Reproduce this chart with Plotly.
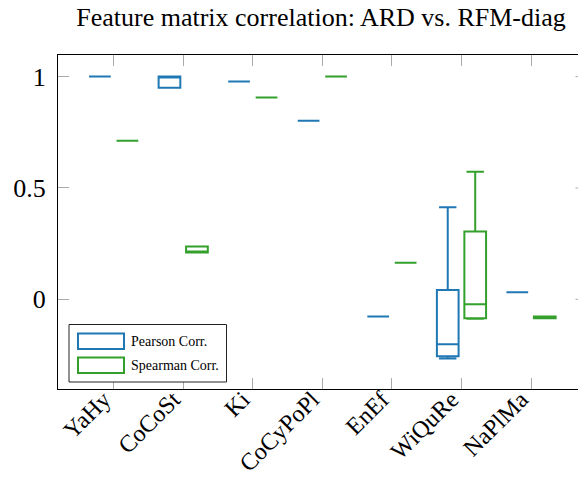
import plotly.graph_objects as go

# Feature groups on the x axis
categories = ["YaHy", "CoCoSt", "Ki", "CoCyPoPl", "EnEf", "WiQuRe", "NaPlMa"]

# Pearson correlation summary statistics per feature group
pearson_q1 = [1.0, 0.950, 0.978, 0.802, -0.077, -0.256, 0.032]
pearson_median = [1.0, 1.0, 0.978, 0.802, -0.077, -0.202, 0.032]
pearson_q3 = [1.0, 1.0, 0.978, 0.802, -0.077, 0.042, 0.032]
pearson_low = [1.0, 0.950, 0.978, 0.802, -0.077, -0.266, 0.032]
pearson_high = [1.0, 1.0, 0.978, 0.802, -0.077, 0.413, 0.032]

# Spearman correlation summary statistics per feature group
spearman_q1 = [0.712, 0.210, 0.906, 1.0, 0.164, -0.085, -0.085]
spearman_median = [0.712, 0.210, 0.906, 1.0, 0.164, -0.022, -0.080]
spearman_q3 = [0.712, 0.237, 0.906, 1.0, 0.164, 0.304, -0.077]
spearman_low = [0.712, 0.210, 0.906, 1.0, 0.164, -0.088, -0.085]
spearman_high = [0.712, 0.237, 0.906, 1.0, 0.164, 0.573, -0.077]

y_tick_values = [0, 0.5, 1]
y_tick_labels = ["0", "0.5", "1"]

BLUE = "#1f78b4"
GREEN = "#33a02c"
SERIF = "Liberation Serif, Times New Roman, serif"

W, H = 578, 477
ML, MR, MT, MB = 58, 0, 55, 88
PW, PH = W - ML - MR, H - MT - MB


def px_x(px):
    return (px - ML) / PW


def px_y(py):
    return (H - MB - py) / PH


fig = go.Figure()
series = [
    ("Pearson Corr.", BLUE, pearson_q1, pearson_median, pearson_q3, pearson_low, pearson_high),
    ("Spearman Corr.", GREEN, spearman_q1, spearman_median, spearman_q3, spearman_low, spearman_high),
]
for name, color, q1, med, q3, lo, hi in series:
    fig.add_trace(go.Box(
        name=name, x=categories, q1=q1, median=med, q3=q3,
        lowerfence=lo, upperfence=hi, orientation="v",
        boxpoints=False, whiskerwidth=0.8,
        line=dict(color=color, width=2), fillcolor="rgba(0,0,0,0)",
        showlegend=False, hoverinfo="skip",
    ))

shapes = []
# short stubs of the right-hand y ticks at the clipped edge
for v in y_tick_values:
    shapes.append(dict(type="line", xref="paper", yref="y", x0=1 - 2.5 / PW, x1=1,
                       y0=v, y1=v, line=dict(color="#aaaaaa", width=1)))

# legend frame and swatches
shapes.append(dict(type="rect", xref="paper", yref="paper",
                   x0=px_x(69), x1=px_x(226.5), y0=px_y(382), y1=px_y(324.5),
                   line=dict(color="#222222", width=1), fillcolor="white", layer="above"))
annotations = []
for i, (name, color, *_rest) in enumerate(series):
    top = 333.5 + i * 24
    shapes.append(dict(type="rect", xref="paper", yref="paper",
                       x0=px_x(78), x1=px_x(124), y0=px_y(top + 15.5), y1=px_y(top),
                       line=dict(color=color, width=2), fillcolor="white", layer="above"))
    annotations.append(dict(text=name, xref="paper", yref="paper",
                            x=px_x(129), y=px_y(top + 7.5), xanchor="left", yanchor="middle",
                            showarrow=False, font=dict(family=SERIF, size=14, color="black")))

fig.update_layout(
    width=W, height=H,
    margin=dict(l=ML, r=MR, t=MT, b=MB, autoexpand=False),
    paper_bgcolor="white", plot_bgcolor="white",
    boxmode="group", boxgap=0.21, boxgroupgap=0.21,
    title=dict(text="Feature matrix correlation: ARD vs. RFM-diag",
               font=dict(family=SERIF, size=26, color="black"),
               xref="container", x=321 / W, xanchor="center",
               yref="container", y=1 - 17 / H, yanchor="middle"),
    xaxis=dict(type="category", categoryorder="array", categoryarray=categories,
               range=[-0.8, 6.675], showgrid=False, zeroline=False, automargin=False,
               showline=True, linecolor="black", linewidth=1, mirror="ticks",
               ticks="inside", ticklen=11, tickcolor="#aaaaaa", tickwidth=1,
               tickangle=-45, ticklabelstandoff=-14, ticklabelshift=-10,
               tickfont=dict(family=SERIF, size=24, color="black")),
    yaxis=dict(range=[-0.403, 1.097], showgrid=False, zeroline=False, automargin=False,
               showline=True, linecolor="black", linewidth=1, mirror=False,
               ticks="inside", ticklen=11, tickcolor="#aaaaaa", tickwidth=1,
               tickvals=y_tick_values, ticktext=y_tick_labels, ticklabelstandoff=6,
               tickfont=dict(family=SERIF, size=26, color="black")),
    shapes=shapes, annotations=annotations,
)

fig.write_html("out.html")
